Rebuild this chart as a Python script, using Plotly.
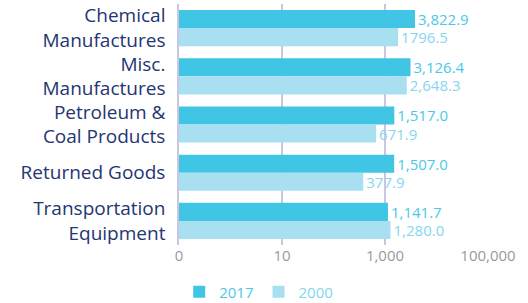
import plotly.graph_objects as go

categories = ["Chemical<br>Manufactures", "Misc.<br>Manufactures", "Petroleum &<br>Coal Products",
              "Returned Goods", "Transportation<br>Equipment"]
values_2017 = [3822.9, 3126.4, 1517.0, 1507.0, 1141.7]
values_2000 = [1796.5, 2648.3, 671.9, 377.9, 1280.0]
labels_2017 = ["3,822.9", "3,126.4", "1,517.0", "1,507.0", "1,141.7"]
labels_2000 = ["1796.5", "2,648.3", "671.9", "377.9", "1,280.0"]
tick_vals = [0.1, 10, 1000, 100000]
tick_text = ["0", "10", "1,000", "100,000"]

c2017 = "#41C5E5"
c2000 = "#A8DFF1"
t2017 = "#4CC8E6"
t2000 = "#86D6EF"
grid = "#C9C7DF"
font = "Open Sans"

fig = go.Figure()
fig.add_trace(go.Bar(
    y=categories, x=values_2017, orientation="h", name=f"<span style='color:{t2017}'>2017</span>",
    marker=dict(color=c2017, line=dict(width=0)), text=labels_2017, textposition="outside",
    constraintext="none",
    textfont=dict(color=t2017, size=15, family=font), cliponaxis=False))
fig.add_trace(go.Bar(
    y=categories, x=values_2000, orientation="h", name=f"<span style='color:{t2000}'>2000</span>",
    marker=dict(color=c2000, line=dict(width=0)), text=labels_2000, textposition="outside",
    constraintext="none",
    textfont=dict(color=t2000, size=15, family=font), cliponaxis=False))

fig.update_layout(
    width=528, height=303,
    margin=dict(l=179, r=40, t=4, b=58, autoexpand=False),
    paper_bgcolor="white", plot_bgcolor="white",
    barmode="group", bargap=0.25, bargroupgap=0,
    font=dict(family=font),
    showlegend=True,
    legend=dict(orientation="h", x=0.49, xanchor="center", xref="container",
                y=0.036, yanchor="middle", yref="container",
                font=dict(size=15, family=font), itemwidth=30, tracegroupgap=0),
)
fig.update_xaxes(type="log", range=[-1, 5], tickvals=tick_vals, ticktext=tick_text,
                 showgrid=True, gridcolor=grid, gridwidth=1.5, zeroline=False,
                 ticks="",
                 tickfont=dict(size=15, color="#9A9A9A", family=font), showline=False,
                 automargin=False)
fig.update_yaxes(autorange="reversed", showgrid=False, showline=True, linecolor=grid, linewidth=1.5,
                 ticks="", ticklabelstandoff=8, automargin=False,
                 tickfont=dict(size=19, color="#243573", family=font))

fig.write_html("out.html", post_script="document.body.style.margin='0';",
               config={"displayModeBar": False})
